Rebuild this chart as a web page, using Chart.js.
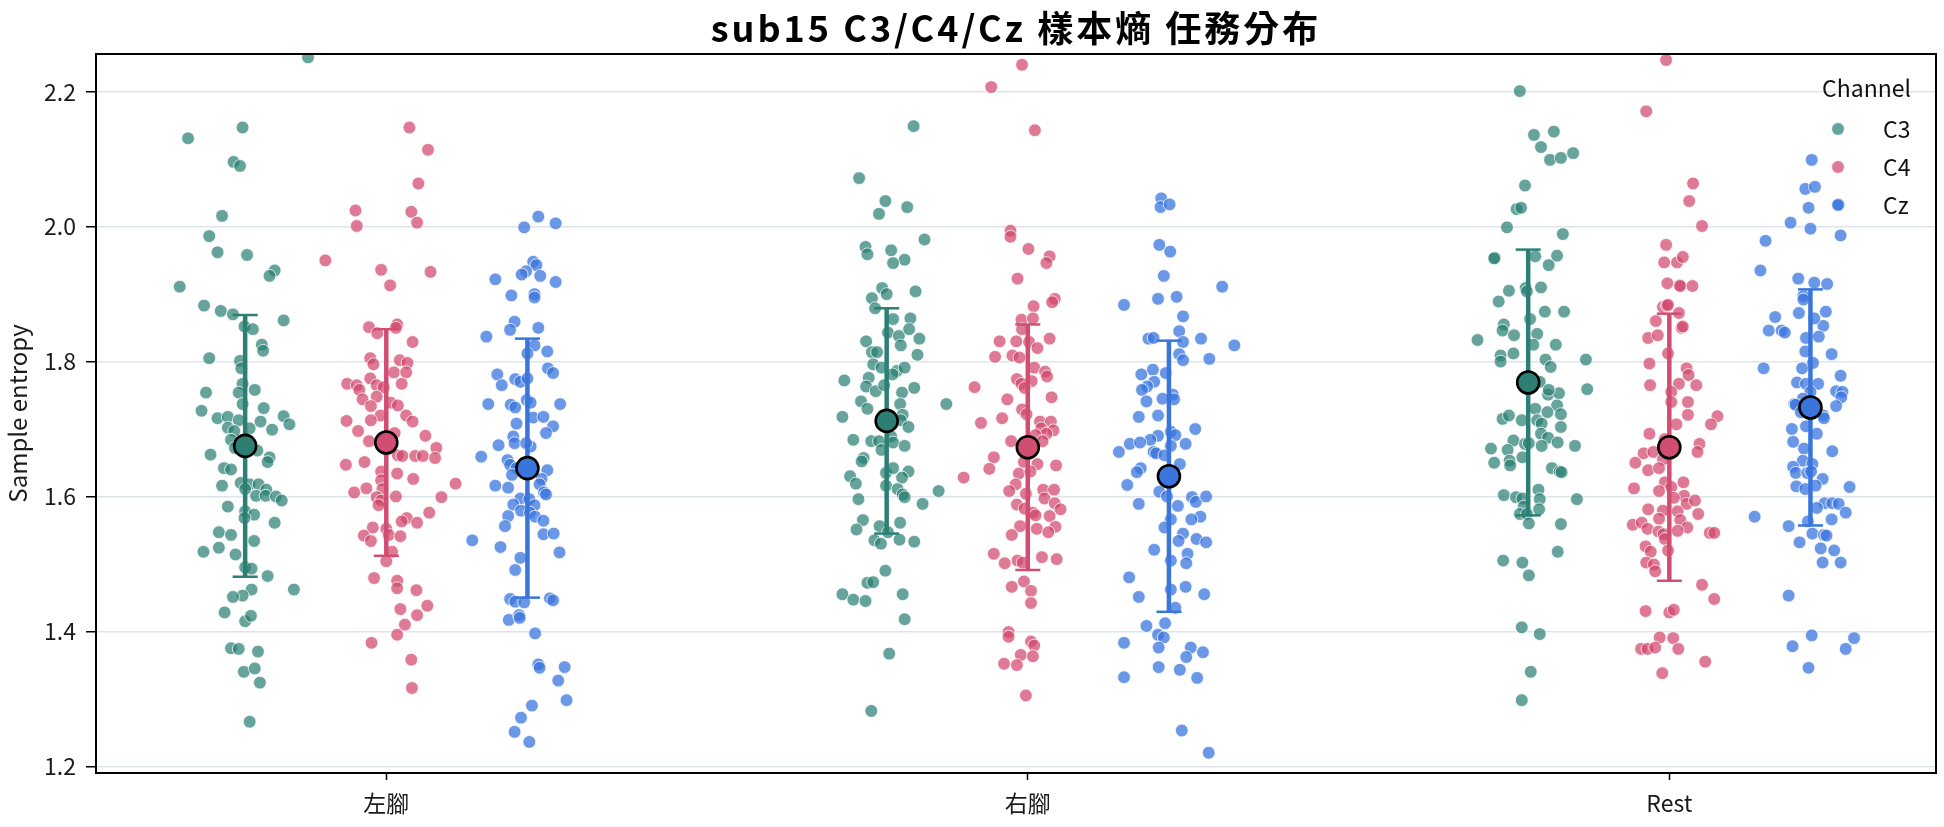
<!DOCTYPE html>
<html>
<head>
<meta charset="utf-8">
<script src="https://cdn.jsdelivr.net/npm/chart.js@4.4.1/dist/chart.umd.min.js"></script>
<style>
  html, body { margin: 0; padding: 0; background: #fff; }
</style>
</head>
<body>
<canvas id="chart" width="1944" height="827"></canvas>
<script>
// ==================== DADOS ====================

const title = 'sub15 C3/C4/Cz 樣本熵 任務分布';
const categories = ['左腳', '右腳', 'Rest'];
const channels = ['C3', 'C4', 'Cz'];
const yTicks = [1.2, 1.4, 1.6, 1.8, 2.0, 2.2];

// mean and standard deviation per category (左腳, 右腳, Rest)
const meanC3 = [1.675, 1.712, 1.769];
const sdC3 = [0.194, 0.167, 0.197];
const meanC4 = [1.680, 1.673, 1.673];
const sdC4 = [0.168, 0.182, 0.198];
const meanCz = [1.642, 1.630, 1.732];
const sdCz = [0.192, 0.201, 0.175];

// single trials (sample entropy) and their strip jitter
const leftC3 = [
  2.251, 2.147, 2.131, 2.096, 2.090, 2.016, 1.986, 1.962, 1.958, 1.935,
  1.927, 1.911, 1.883, 1.875, 1.870, 1.861, 1.852, 1.848, 1.825, 1.816,
  1.805, 1.801, 1.790, 1.754, 1.767, 1.758, 1.754, 1.737, 1.727, 1.731,
  1.716, 1.718, 1.713, 1.711, 1.719, 1.707, 1.699, 1.702, 1.701, 1.697,
  1.684, 1.672, 1.668, 1.662, 1.658, 1.651, 1.642, 1.640, 1.616, 1.620,
  1.618, 1.618, 1.610, 1.611, 1.601, 1.601, 1.600, 1.594, 1.585, 1.578,
  1.573, 1.568, 1.561, 1.547, 1.543, 1.534, 1.518, 1.524, 1.514, 1.495,
  1.493, 1.482, 1.462, 1.462, 1.453, 1.451, 1.428, 1.415, 1.423, 1.375,
  1.374, 1.370, 1.340, 1.345, 1.324, 1.266
];
const leftC3Jit = [
  0.098, -0.004, -0.089, -0.018, -0.008, -0.036, -0.056, -0.043, 0.003, 0.046,
  0.038, -0.102, -0.064, -0.038, -0.019, 0.060, -0.001, 0.012, 0.026, 0.028,
  -0.056, -0.008, -0.006, -0.061, -0.004, 0.015, -0.010, -0.004, -0.068, 0.029,
  -0.043, -0.027, -0.010, 0.024, 0.060, 0.069, 0.042, -0.027, 0.007, -0.017,
  -0.022, -0.016, 0.019, -0.054, 0.038, 0.035, -0.033, -0.022, -0.036, -0.007,
  0.007, 0.021, 0.033, 0.000, 0.017, 0.032, 0.048, 0.057, -0.027, 0.000,
  0.014, -0.001, 0.046, -0.041, -0.022, 0.014, -0.065, -0.041, -0.015, 0.000,
  0.010, 0.035, 0.076, 0.010, -0.004, -0.019, -0.032, 0.000, 0.009, -0.022,
  -0.010, 0.020, -0.002, 0.015, 0.023, 0.007
];

const leftC4 = [
  2.147, 2.114, 2.064, 2.024, 2.001, 2.022, 2.006, 1.950, 1.936, 1.933,
  1.913, 1.851, 1.842, 1.855, 1.850, 1.829, 1.805, 1.796, 1.802, 1.798,
  1.784, 1.784, 1.775, 1.767, 1.765, 1.758, 1.765, 1.767, 1.762, 1.744,
  1.748, 1.734, 1.739, 1.735, 1.712, 1.720, 1.713, 1.720, 1.711, 1.697,
  1.690, 1.694, 1.682, 1.672, 1.661, 1.660, 1.660, 1.660, 1.657, 1.647,
  1.651, 1.637, 1.634, 1.624, 1.626, 1.619, 1.612, 1.606, 1.611, 1.600,
  1.599, 1.594, 1.587, 1.599, 1.576, 1.568, 1.563, 1.561, 1.554, 1.552,
  1.542, 1.534, 1.543, 1.541, 1.518, 1.504, 1.479, 1.475, 1.464, 1.461,
  1.438, 1.433, 1.424, 1.410, 1.395, 1.383, 1.358, 1.316
];
const leftC4Jit = [
  0.036, 0.065, 0.050, -0.048, -0.046, 0.039, 0.048, -0.095, -0.008, 0.069,
  0.006, -0.027, -0.014, 0.017, 0.015, 0.041, -0.025, -0.020, 0.021, 0.033,
  0.012, 0.031, -0.025, -0.061, -0.046, -0.042, -0.015, 0.024, -0.004, -0.037,
  -0.015, -0.024, 0.007, 0.018, -0.062, -0.009, -0.024, 0.031, 0.041, -0.044,
  0.061, 0.013, -0.027, 0.078, 0.018, 0.025, 0.045, 0.057, 0.076, -0.063,
  -0.034, -0.008, 0.017, -0.008, 0.042, 0.108, -0.031, -0.050, -0.006, 0.015,
  -0.015, -0.008, -0.012, 0.086, 0.067, 0.032, 0.024, 0.048, -0.021, 0.000,
  -0.035, -0.024, 0.004, 0.022, 0.009, 0.000, -0.019, 0.017, 0.017, 0.047,
  0.064, 0.022, 0.048, 0.029, 0.017, -0.023, 0.039, 0.040
];

const leftCz = [
  2.015, 2.005, 1.999, 1.948, 1.943, 1.934, 1.929, 1.927, 1.922, 1.918,
  1.898, 1.900, 1.895, 1.859, 1.847, 1.850, 1.837, 1.824, 1.812, 1.815,
  1.790, 1.783, 1.781, 1.765, 1.774, 1.770, 1.775, 1.737, 1.736, 1.732,
  1.743, 1.739, 1.737, 1.717, 1.718, 1.708, 1.704, 1.694, 1.689, 1.679,
  1.676, 1.674, 1.679, 1.659, 1.654, 1.647, 1.642, 1.632, 1.639, 1.626,
  1.618, 1.616, 1.613, 1.606, 1.603, 1.597, 1.596, 1.588, 1.587, 1.579,
  1.576, 1.570, 1.571, 1.564, 1.556, 1.544, 1.545, 1.535, 1.525, 1.517,
  1.509, 1.491, 1.448, 1.444, 1.443, 1.449, 1.446, 1.417, 1.424, 1.420,
  1.397, 1.351, 1.346, 1.347, 1.327, 1.298, 1.290, 1.272, 1.251, 1.236
];
const leftCzJit = [
  0.017, 0.044, -0.005, 0.009, 0.014, -0.002, -0.009, 0.020, -0.050, 0.044,
  -0.025, 0.011, 0.011, -0.020, -0.027, 0.017, -0.064, 0.011, 0.000, 0.031,
  0.032, 0.040, -0.047, -0.040, -0.019, -0.011, 0.000, -0.061, -0.026, -0.019,
  -0.001, 0.005, 0.051, 0.009, 0.025, -0.017, 0.040, 0.029, -0.022, -0.020,
  -0.045, 0.005, -0.002, -0.072, -0.031, -0.027, -0.017, -0.024, 0.031, 0.022,
  0.019, -0.050, -0.030, 0.026, 0.029, -0.011, 0.003, -0.022, 0.011, -0.010,
  0.004, 0.012, -0.030, 0.025, -0.035, 0.025, 0.041, -0.086, -0.042, 0.050,
  -0.011, -0.019, -0.027, -0.019, -0.005, 0.035, 0.040, -0.029, -0.013, -0.012,
  0.012, 0.017, 0.019, 0.058, 0.048, 0.061, 0.007, -0.010, -0.020, 0.003
];

const rightC3 = [
  2.149, 2.072, 2.038, 2.019, 2.029, 1.981, 1.970, 1.959, 1.965, 1.951,
  1.946, 1.909, 1.904, 1.894, 1.900, 1.879, 1.863, 1.864, 1.843, 1.838,
  1.848, 1.834, 1.830, 1.824, 1.814, 1.814, 1.810, 1.796, 1.791, 1.786,
  1.791, 1.772, 1.776, 1.781, 1.763, 1.756, 1.765, 1.761, 1.754, 1.741,
  1.737, 1.730, 1.737, 1.718, 1.721, 1.713, 1.703, 1.684, 1.682, 1.682,
  1.689, 1.680, 1.669, 1.675, 1.657, 1.652, 1.630, 1.619, 1.635, 1.642,
  1.637, 1.628, 1.616, 1.611, 1.603, 1.599, 1.596, 1.608, 1.589, 1.565,
  1.551, 1.556, 1.561, 1.547, 1.535, 1.530, 1.536, 1.533, 1.490, 1.472,
  1.473, 1.455, 1.447, 1.445, 1.455, 1.418, 1.367, 1.282
];
const rightC3Jit = [
  0.042, -0.043, -0.002, -0.012, 0.032, 0.059, -0.033, -0.030, 0.007, 0.028,
  0.010, -0.007, 0.045, -0.023, 0.000, -0.018, 0.010, 0.037, 0.002, 0.019,
  0.035, 0.051, -0.032, 0.022, -0.023, -0.015, 0.048, -0.021, -0.008, 0.016,
  0.028, -0.066, -0.028, 0.009, -0.032, -0.017, -0.004, 0.043, 0.024, -0.040,
  0.021, -0.030, 0.093, -0.069, 0.025, 0.022, 0.034, -0.052, -0.024, -0.012,
  0.007, 0.010, -0.008, 0.028, -0.036, -0.039, -0.057, -0.048, -0.001, 0.010,
  0.034, 0.024, -0.001, 0.017, 0.025, 0.028, -0.044, 0.081, 0.056, -0.037,
  -0.047, -0.011, 0.021, 0.002, -0.019, -0.009, 0.020, 0.043, -0.002, -0.030,
  -0.021, -0.069, -0.052, -0.033, 0.025, 0.028, 0.004, -0.024
];

const rightC4 = [
  2.240, 2.207, 2.143, 1.994, 1.985, 1.967, 1.956, 1.946, 1.923, 1.893,
  1.888, 1.882, 1.862, 1.864, 1.848, 1.830, 1.830, 1.829, 1.834, 1.820,
  1.807, 1.809, 1.806, 1.791, 1.785, 1.778, 1.774, 1.771, 1.762, 1.767,
  1.761, 1.744, 1.747, 1.729, 1.722, 1.716, 1.709, 1.711, 1.711, 1.701,
  1.698, 1.693, 1.691, 1.682, 1.682, 1.658, 1.641, 1.651, 1.648, 1.646,
  1.634, 1.628, 1.637, 1.618, 1.608, 1.610, 1.610, 1.604, 1.597, 1.588,
  1.590, 1.581, 1.582, 1.576, 1.572, 1.571, 1.556, 1.552, 1.555, 1.547,
  1.543, 1.515, 1.501, 1.505, 1.502, 1.510, 1.507, 1.474, 1.466, 1.460,
  1.442, 1.399, 1.392, 1.385, 1.379, 1.365, 1.363, 1.352, 1.350, 1.305
];
const rightC4Jit = [
  -0.009, -0.057, 0.011, -0.027, -0.027, 0.001, 0.034, 0.029, -0.016, 0.042,
  0.038, 0.009, -0.010, 0.008, -0.009, -0.044, -0.018, 0.002, 0.034, 0.015,
  -0.051, -0.024, -0.013, 0.010, 0.027, 0.030, -0.017, 0.006, -0.083, -0.010,
  -0.005, -0.032, 0.037, -0.009, -0.002, -0.040, -0.073, 0.019, 0.036, 0.021,
  0.040, 0.029, 0.012, -0.026, 0.023, -0.053, -0.060, -0.006, 0.015, 0.044,
  -0.014, -0.100, 0.004, -0.019, -0.029, 0.024, 0.041, -0.003, 0.026, -0.017,
  0.042, 0.051, -0.005, 0.008, 0.012, 0.034, -0.012, 0.014, 0.043, 0.032,
  -0.025, -0.053, -0.036, -0.016, -0.008, 0.022, 0.045, -0.006, -0.025, 0.005,
  0.005, -0.030, -0.030, 0.005, 0.010, -0.011, 0.008, -0.037, -0.017, -0.003
];

const rightCz = [
  2.042, 2.029, 2.033, 1.973, 1.963, 1.927, 1.911, 1.884, 1.893, 1.896,
  1.867, 1.845, 1.834, 1.835, 1.829, 1.834, 1.824, 1.811, 1.802, 1.804,
  1.788, 1.783, 1.781, 1.770, 1.763, 1.758, 1.751, 1.744, 1.745, 1.741,
  1.720, 1.718, 1.700, 1.696, 1.691, 1.690, 1.684, 1.678, 1.680, 1.678,
  1.675, 1.666, 1.666, 1.664, 1.661, 1.648, 1.642, 1.636, 1.617, 1.607,
  1.600, 1.599, 1.592, 1.600, 1.589, 1.586, 1.570, 1.566, 1.566, 1.554,
  1.545, 1.537, 1.534, 1.532, 1.521, 1.515, 1.505, 1.501, 1.480, 1.462,
  1.466, 1.451, 1.455, 1.435, 1.408, 1.412, 1.395, 1.391, 1.383, 1.376,
  1.376, 1.362, 1.369, 1.347, 1.343, 1.332, 1.331, 1.253, 1.220
];
const rightCzJit = [
  -0.012, -0.013, 0.001, -0.015, 0.002, -0.008, 0.083, -0.070, -0.017, 0.012,
  0.022, 0.016, -0.032, -0.024, 0.022, 0.050, 0.102, 0.016, 0.022, 0.063,
  -0.025, -0.005, -0.043, -0.023, -0.034, -0.042, 0.006, 0.008, -0.010, -0.035,
  -0.017, -0.047, 0.041, 0.003, 0.010, -0.017, -0.029, -0.061, -0.045, 0.026,
  0.003, -0.078, -0.024, -0.020, -0.007, 0.017, -0.044, -0.050, -0.065, -0.015,
  -0.003, 0.036, 0.042, 0.058, -0.047, 0.014, 0.049, 0.035, 0.003, -0.007,
  0.022, 0.043, 0.015, 0.058, -0.023, 0.029, 0.003, 0.027, -0.062, 0.003,
  0.026, -0.047, 0.055, 0.010, -0.035, -0.006, -0.017, -0.008, -0.070, -0.016,
  0.034, 0.027, 0.053, -0.016, 0.017, -0.070, 0.044, 0.020, 0.062
];

const restC3 = [
  2.201, 2.136, 2.141, 2.118, 2.099, 2.102, 2.109, 2.061, 2.026, 2.028,
  1.999, 1.989, 1.954, 1.953, 1.956, 1.957, 1.943, 1.905, 1.909, 1.904,
  1.910, 1.889, 1.874, 1.874, 1.855, 1.846, 1.863, 1.839, 1.841, 1.832,
  1.825, 1.825, 1.809, 1.800, 1.812, 1.803, 1.792, 1.803, 1.770, 1.751,
  1.759, 1.753, 1.758, 1.730, 1.735, 1.725, 1.722, 1.715, 1.720, 1.713,
  1.713, 1.708, 1.703, 1.693, 1.687, 1.683, 1.678, 1.679, 1.675, 1.680,
  1.675, 1.671, 1.669, 1.658, 1.650, 1.653, 1.646, 1.642, 1.637, 1.636,
  1.610, 1.602, 1.599, 1.597, 1.596, 1.596, 1.585, 1.581, 1.574, 1.574,
  1.560, 1.559, 1.518, 1.505, 1.502, 1.483, 1.406, 1.396, 1.340, 1.298
];
const restC3Jit = [
  -0.013, 0.009, 0.040, 0.020, 0.034, 0.051, 0.070, -0.005, -0.018, -0.011,
  -0.033, 0.054, -0.052, -0.053, 0.011, 0.045, 0.032, -0.030, -0.004, -0.002,
  0.020, -0.046, 0.026, 0.056, -0.038, -0.040, 0.003, -0.022, 0.014, -0.079,
  0.008, 0.043, -0.043, -0.043, -0.023, 0.027, 0.035, 0.090, 0.018, 0.031,
  0.092, 0.048, 0.032, 0.011, 0.045, 0.030, 0.051, -0.040, -0.030, -0.010,
  0.014, 0.021, 0.051, 0.020, 0.031, -0.023, -0.005, 0.001, 0.021, 0.046,
  0.073, -0.058, -0.032, -0.009, -0.053, -0.029, -0.028, 0.037, 0.049, 0.052,
  0.016, -0.038, -0.019, -0.009, 0.018, 0.076, -0.007, 0.017, -0.013, -0.002,
  0.001, 0.051, 0.046, -0.039, -0.009, 0.001, -0.010, 0.018, 0.004, -0.010
];

const restC4 = [
  2.247, 2.171, 2.064, 2.038, 2.001, 1.973, 1.947, 1.947, 1.955, 1.916,
  1.913, 1.912, 1.912, 1.881, 1.883, 1.884, 1.872, 1.860, 1.850, 1.852,
  1.835, 1.839, 1.812, 1.797, 1.790, 1.780, 1.765, 1.767, 1.765, 1.755,
  1.740, 1.740, 1.721, 1.719, 1.707, 1.707, 1.693, 1.685, 1.678, 1.666,
  1.664, 1.666, 1.650, 1.655, 1.639, 1.642, 1.621, 1.621, 1.612, 1.608,
  1.614, 1.601, 1.598, 1.589, 1.594, 1.574, 1.581, 1.579, 1.578, 1.558,
  1.561, 1.567, 1.565, 1.554, 1.552, 1.548, 1.544, 1.549, 1.546, 1.546,
  1.537, 1.526, 1.518, 1.520, 1.502, 1.499, 1.489, 1.469, 1.448, 1.430,
  1.428, 1.432, 1.391, 1.390, 1.374, 1.374, 1.376, 1.374, 1.355, 1.338
];
const restC4Jit = [
  -0.005, -0.036, 0.037, 0.031, 0.051, -0.005, -0.008, 0.012, 0.021, -0.003,
  0.016, 0.017, 0.036, -0.010, -0.004, -0.002, 0.015, -0.021, 0.019, 0.021,
  -0.033, -0.018, -0.002, -0.031, 0.027, 0.030, -0.030, 0.015, 0.042, 0.003,
  0.003, 0.029, 0.029, 0.075, 0.065, 0.011, -0.031, -0.007, 0.047, 0.044,
  -0.040, -0.025, -0.053, -0.010, -0.033, -0.016, -0.007, 0.022, -0.055, -0.016,
  0.003, 0.023, 0.007, 0.027, 0.040, 0.045, -0.033, -0.010, 0.013, -0.057,
  -0.043, -0.016, 0.017, 0.028, -0.034, -0.017, -0.009, 0.013, 0.063, 0.070,
  -0.007, -0.037, -0.029, -0.002, -0.036, -0.024, -0.022, 0.051, 0.070, -0.037,
  0.000, 0.007, -0.015, 0.006, -0.044, -0.034, -0.022, 0.014, 0.056, -0.011
];

const restCz = [
  2.099, 2.056, 2.059, 2.028, 2.033, 2.006, 1.997, 1.987, 1.979, 1.935,
  1.923, 1.917, 1.915, 1.897, 1.892, 1.874, 1.872, 1.866, 1.853, 1.846,
  1.846, 1.843, 1.864, 1.835, 1.837, 1.815, 1.811, 1.798, 1.790, 1.790,
  1.779, 1.769, 1.767, 1.767, 1.756, 1.755, 1.755, 1.747, 1.745, 1.737,
  1.736, 1.734, 1.720, 1.716, 1.725, 1.704, 1.700, 1.693, 1.681, 1.667,
  1.671, 1.653, 1.644, 1.648, 1.635, 1.635, 1.637, 1.626, 1.615, 1.611,
  1.616, 1.614, 1.590, 1.590, 1.589, 1.583, 1.576, 1.570, 1.566, 1.563,
  1.556, 1.545, 1.543, 1.542, 1.532, 1.523, 1.520, 1.502, 1.502, 1.453,
  1.394, 1.390, 1.378, 1.374, 1.346
];
const restCzJit = [
  0.002, -0.008, 0.007, -0.003, 0.044, -0.031, 0.000, 0.047, -0.070, -0.078,
  -0.019, 0.006, 0.026, -0.011, -0.011, 0.024, -0.018, -0.055, 0.020, -0.065,
  -0.045, -0.040, 0.006, -0.007, 0.013, -0.008, 0.033, 0.004, -0.073, -0.013,
  0.047, -0.021, -0.007, 0.012, 0.040, 0.050, 0.000, 0.048, -0.012, -0.025,
  -0.023, 0.040, 0.020, 0.021, -0.015, -0.007, -0.029, 0.010, -0.027, 0.034,
  -0.010, -0.012, -0.027, 0.003, -0.023, -0.005, 0.001, 0.019, -0.022, -0.008,
  0.008, 0.061, 0.022, 0.034, 0.044, 0.010, 0.055, -0.087, 0.033, -0.004,
  -0.034, 0.003, 0.021, 0.025, -0.017, 0.016, 0.037, 0.019, 0.047, -0.034,
  0.002, 0.068, -0.028, 0.055, -0.003
];

// ==================== GRÁFICO ====================

const FONT = '"Noto Sans CJK TC", "Noto Sans", sans-serif';
const DODGE = 0.22;

const strips = {
  C3: [[leftC3, leftC3Jit], [rightC3, rightC3Jit], [restC3, restC3Jit]],
  C4: [[leftC4, leftC4Jit], [rightC4, rightC4Jit], [restC4, restC4Jit]],
  Cz: [[leftCz, leftCzJit], [rightCz, rightCzJit], [restCz, restCzJit]]
};
const stats = {
  C3: [meanC3, sdC3],
  C4: [meanC4, sdC4],
  Cz: [meanCz, sdCz]
};

const pointColor = {
  C3: 'rgba(42, 128, 117, 0.72)',
  C4: 'rgba(209, 70, 108, 0.72)',
  Cz: 'rgba(58, 117, 222, 0.75)'
};
const lineColor = {
  C3: '#2d7f74',
  C4: '#d24d72',
  Cz: '#3a75dc'
};

const datasets = [];

channels.forEach((ch, k) => {
  const off = (k - 1) * DODGE;
  const pts = [];
  strips[ch].forEach(([vals, jit], i) => {
    vals.forEach((v, n) => pts.push({ x: i + off + jit[n], y: v }));
  });
  datasets.push({
    type: 'scatter',
    label: ch,
    data: pts,
    order: 3,
    clip: 0,
    pointRadius: 6.4,
    pointBackgroundColor: pointColor[ch],
    pointBorderColor: 'rgba(255, 255, 255, 0.85)',
    pointBorderWidth: 0.9
  });

  const [mean, sd] = stats[ch];
  categories.forEach((cat, i) => {
    datasets.push({
      type: 'scatter',
      label: ch + ' sd',
      data: [{ x: i + off, y: mean[i] - sd[i] }, { x: i + off, y: mean[i] + sd[i] }],
      order: 2,
      showLine: true,
      borderColor: lineColor[ch],
      borderWidth: 4.5,
      pointStyle: 'line',
      pointRadius: 12.5,
      pointBorderColor: lineColor[ch],
      pointBorderWidth: 2.5
    });
  });

  datasets.push({
    type: 'scatter',
    label: ch + ' mean',
    data: categories.map((cat, i) => ({ x: i + off, y: mean[i] })),
    order: 1,
    pointRadius: 11,
    pointBackgroundColor: lineColor[ch],
    pointBorderColor: '#000',
    pointBorderWidth: 2.6
  });
});

const framePlugin = {
  id: 'frame',
  afterDatasetsDraw(chart) {
    const { ctx, chartArea: a } = chart;
    ctx.save();
    ctx.strokeStyle = '#000';
    ctx.lineWidth = 2;
    ctx.strokeRect(a.left, a.top, a.right - a.left, a.bottom - a.top);
    ctx.restore();
  }
};

const titlePlugin = {
  id: 'wideTitle',
  afterDraw(chart) {
    const { ctx, chartArea: a } = chart;
    ctx.save();
    ctx.font = 'bold 36px ' + FONT;
    ctx.letterSpacing = '3px';
    ctx.fillStyle = '#000';
    ctx.textAlign = 'center';
    ctx.textBaseline = 'middle';
    ctx.fillText(title, (a.left + a.right) / 2, 28);
    ctx.restore();
  }
};

const legendPlugin = {
  id: 'channelLegend',
  afterDraw(chart) {
    const { ctx, chartArea: a } = chart;
    ctx.save();
    ctx.font = '23px ' + FONT;
    ctx.fillStyle = '#111';
    ctx.textBaseline = 'middle';
    ctx.textAlign = 'right';
    ctx.fillText('Channel', a.right - 25, a.top + 34);
    channels.forEach((ch, k) => {
      const y = a.top + 75 + k * 38;
      ctx.beginPath();
      ctx.arc(a.right - 98, y, 6.4, 0, Math.PI * 2);
      ctx.fillStyle = pointColor[ch];
      ctx.fill();
      ctx.strokeStyle = 'rgba(255, 255, 255, 0.85)';
      ctx.lineWidth = 0.9;
      ctx.stroke();
      ctx.fillStyle = '#111';
      ctx.textAlign = 'left';
      ctx.fillText(ch, a.right - 53, y);
    });
    ctx.restore();
  }
};

new Chart(document.getElementById('chart').getContext('2d'), {
  type: 'scatter',
  data: { datasets: datasets },
  plugins: [framePlugin, titlePlugin, legendPlugin],
  options: {
    responsive: false,
    animation: false,
    layout: { autoPadding: false, padding: { left: 0, right: 8, top: 54, bottom: 0 } },
    plugins: {
      legend: { display: false },
      tooltip: { enabled: false },
      title: { display: false }
    },
    scales: {
      x: {
        type: 'linear',
        min: -0.4525,
        max: 2.4157,
        afterBuildTicks: (s) => { s.ticks = categories.map((c, i) => ({ value: i })); },
        afterFit: (s) => { s.height = 54; },
        ticks: {
          callback: (v) => categories[v],
          color: '#1a1a1a',
          font: { family: FONT, size: 23 },
          padding: 9,
          autoSkip: false,
          maxRotation: 0
        },
        grid: { drawOnChartArea: false, drawTicks: true, tickLength: 7, tickColor: '#000', tickWidth: 1.5 },
        border: { display: false }
      },
      y: {
        type: 'linear',
        min: 1.19,
        max: 2.256,
        afterBuildTicks: (s) => { s.ticks = yTicks.map(v => ({ value: v })); },
        afterFit: (s) => { s.width = 96; },
        ticks: {
          callback: (v) => v.toFixed(1),
          color: '#1a1a1a',
          font: { family: FONT, size: 23 },
          padding: 10
        },
        grid: { color: '#dde4ec', lineWidth: 1.5, tickColor: '#000', tickLength: 10, tickWidth: 1.5 },
        border: { display: false },
        title: {
          display: true,
          text: 'Sample entropy',
          color: '#1a1a1a',
          font: { family: FONT, size: 24 },
          padding: { top: 3, bottom: 0 }
        }
      }
    }
  }
});
</script>
</body>
</html>
